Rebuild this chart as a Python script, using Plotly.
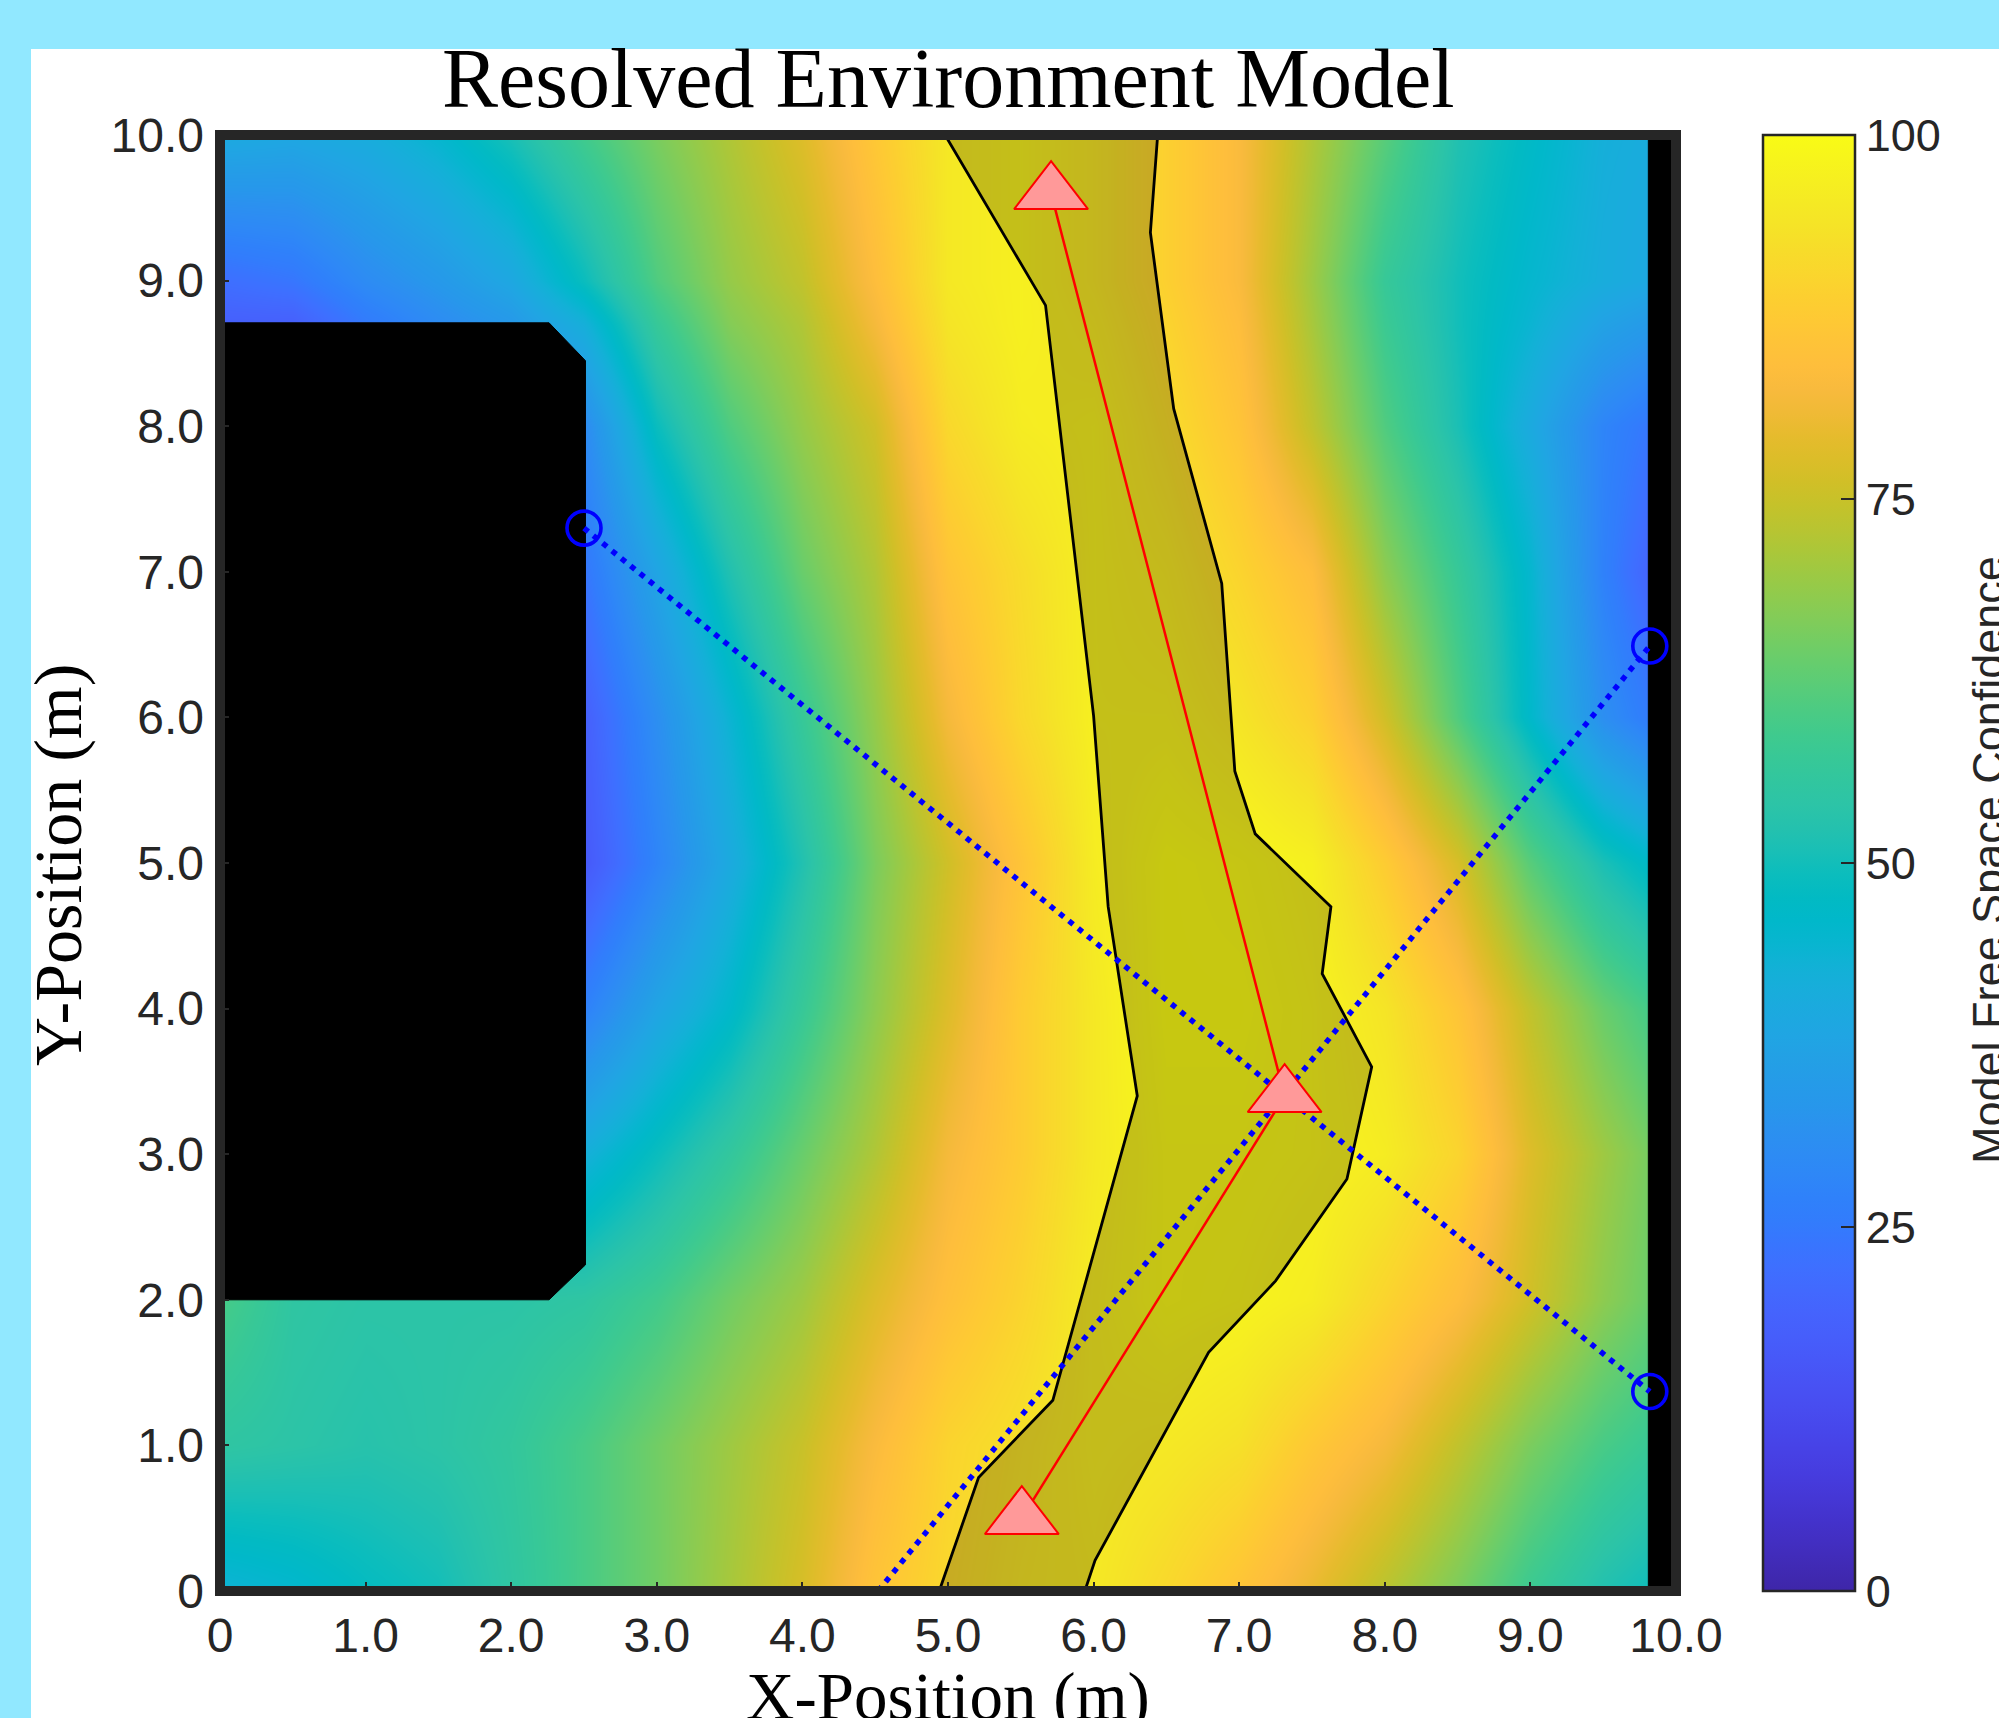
import plotly.graph_objects as go

# ---------------- data ----------------
x_grid = [0.0, 0.5, 1.0, 1.5, 2.0, 2.5, 3.0, 3.5, 4.0, 4.5, 5.0,
          5.5, 6.0, 6.5, 7.0, 7.5, 8.0, 8.5, 9.0, 9.5, 10.0]
y_grid = [0.0, 1.0, 2.0, 3.0, 4.0, 5.0, 6.0, 7.0, 8.0, 8.7, 9.0, 10.0]

conf_y0 = [43, 45, 48, 50, 55, 60, 65, 71, 77, 86, 91, 94, 95, 91, 86, 80, 73, 66, 58, 52, 48]
conf_y1 = [55, 54, 53, 54, 56, 60, 65, 70, 75, 83, 90, 93, 96, 95, 93, 87, 82, 74, 66, 60, 56]
conf_y2 = [60, 55, 54, 54, 54, 55, 59, 65, 70, 78, 85, 90, 96, 99, 98, 96, 90, 84, 76, 68, 62]
conf_y3 = [58, 54, 52, 50, 47, 42, 49, 56, 64, 72, 82, 88, 95, 99, 99, 98, 96, 90, 78, 70, 63]
conf_y4 = [20, 18, 18, 20, 22, 27, 38, 46, 57, 68, 78, 88, 95, 100, 100, 98, 94, 86, 74, 64, 57]
conf_y5 = [10, 10, 10, 12, 14, 16, 28, 40, 52, 66, 76, 86, 96, 100, 99, 97, 88, 77, 62, 51, 44]
conf_y6 = [10, 10, 10, 12, 15, 18, 31, 44, 57, 69, 82, 91, 97, 97, 94, 89, 76, 61, 46, 31, 22]
conf_y7 = [10, 10, 12, 15, 20, 24, 38, 52, 64, 72, 86, 92, 97, 95, 90, 84, 68, 57, 45, 27, 15]
conf_y8 = [8, 8, 13, 18, 22, 30, 49, 61, 69, 76, 91, 96, 97, 92, 86, 74, 61, 51, 40, 28, 22]
conf_y8_7 = [18, 18, 25, 30, 34, 42, 57, 67, 72, 82, 94, 97, 95, 90, 84, 71, 58, 50, 44, 37, 33]
conf_y9 = [22, 24, 30, 34, 39, 49, 61, 69, 74, 84, 95, 97, 94, 89, 83, 70, 57, 50, 45, 41, 38]
conf_y10 = [40, 39, 41, 45, 51, 59, 66, 72, 78, 87, 95, 97, 94, 89, 83, 72, 62, 52, 47, 42, 40]

# corridor (resolved free-space band)
corr_x = [4.94, 5.21, 5.72, 6.30, 6.10, 6.00, 5.67, 4.98, 6.44, 6.39, 6.55, 6.88,
          6.97, 7.11, 7.63, 7.57, 7.91, 7.74, 7.25, 6.79, 6.01, 5.94]
corr_y = [0.00, 0.78, 1.31, 3.40, 4.70, 6.01, 8.83, 10.0, 10.0, 9.33, 8.12, 6.92,
          5.63, 5.20, 4.70, 4.24, 3.60, 2.83, 2.13, 1.64, 0.21, 0.00]

# obstacles
obst_x = [0.0, 2.26, 2.51, 2.51, 2.26, 0.0]
obst_y = [2.0, 2.0, 2.24, 8.45, 8.71, 8.71]
wall_x = [9.81, 10.0, 10.0, 9.81]
wall_y = [0.0, 0.0, 10.0, 10.0]

# planned path waypoints
path_x = [5.708, 7.312, 5.507]
path_y = [9.601, 3.399, 0.501]

# sensor beams
beam_a_x = [2.50, 9.82]
beam_a_y = [7.30, 1.37]
beam_b_x = [4.52, 9.82]
beam_b_y = [0.00, 6.49]
sensor_x = [2.50, 9.82, 9.82]
sensor_y = [7.30, 1.37, 6.49]

x_ticks = [0, 1, 2, 3, 4, 5, 6, 7, 8, 9, 10]
x_tick_labels = ["0", "1.0", "2.0", "3.0", "4.0", "5.0", "6.0", "7.0", "8.0", "9.0", "10.0"]
y_ticks = [0, 1, 2, 3, 4, 5, 6, 7, 8, 9, 10]
y_tick_labels = ["0", "1.0", "2.0", "3.0", "4.0", "5.0", "6.0", "7.0", "8.0", "9.0", "10.0"]
cb_ticks = [0, 25, 50, 75, 100]
cb_tick_labels = ["0", "25", "50", "75", "100"]

parula_rgb = [
    (0.2422, 0.1504, 0.6603), (0.2504, 0.1650, 0.7076), (0.2578, 0.1818, 0.7511),
    (0.2647, 0.1978, 0.7952), (0.2706, 0.2147, 0.8364), (0.2751, 0.2342, 0.8710),
    (0.2783, 0.2559, 0.8991), (0.2803, 0.2782, 0.9221), (0.2813, 0.3006, 0.9414),
    (0.2810, 0.3228, 0.9579), (0.2795, 0.3447, 0.9717), (0.2760, 0.3667, 0.9829),
    (0.2699, 0.3892, 0.9906), (0.2602, 0.4123, 0.9952), (0.2440, 0.4358, 0.9988),
    (0.2206, 0.4603, 0.9973), (0.1963, 0.4847, 0.9892), (0.1834, 0.5074, 0.9798),
    (0.1786, 0.5289, 0.9682), (0.1764, 0.5499, 0.9520), (0.1687, 0.5703, 0.9359),
    (0.1540, 0.5902, 0.9218), (0.1460, 0.6091, 0.9079), (0.1380, 0.6276, 0.8973),
    (0.1248, 0.6459, 0.8883), (0.1113, 0.6635, 0.8763), (0.0952, 0.6798, 0.8598),
    (0.0689, 0.6948, 0.8394), (0.0297, 0.7082, 0.8163), (0.0036, 0.7203, 0.7917),
    (0.0067, 0.7312, 0.7660), (0.0433, 0.7411, 0.7394), (0.0964, 0.7500, 0.7120),
    (0.1408, 0.7584, 0.6842), (0.1717, 0.7670, 0.6554), (0.1938, 0.7758, 0.6251),
    (0.2161, 0.7843, 0.5923), (0.2470, 0.7918, 0.5567), (0.2906, 0.7973, 0.5188),
    (0.3406, 0.8008, 0.4789), (0.3909, 0.8029, 0.4354), (0.4456, 0.8024, 0.3909),
    (0.5044, 0.7993, 0.3480), (0.5616, 0.7942, 0.3045), (0.6174, 0.7876, 0.2612),
    (0.6720, 0.7793, 0.2227), (0.7242, 0.7698, 0.1910), (0.7738, 0.7598, 0.1646),
    (0.8203, 0.7498, 0.1535), (0.8634, 0.7406, 0.1596), (0.9035, 0.7330, 0.1774),
    (0.9393, 0.7288, 0.2100), (0.9728, 0.7298, 0.2394), (0.9956, 0.7434, 0.2371),
    (0.9970, 0.7659, 0.2199), (0.9952, 0.7893, 0.2028), (0.9892, 0.8136, 0.1885),
    (0.9786, 0.8386, 0.1766), (0.9676, 0.8639, 0.1643), (0.9610, 0.8890, 0.1537),
    (0.9597, 0.9135, 0.1423), (0.9628, 0.9373, 0.1265), (0.9691, 0.9606, 0.1064),
    (0.9769, 0.9839, 0.0805),
]

# ---------------- figure ----------------
parula = [[i / (len(parula_rgb) - 1),
           "rgb(%d,%d,%d)" % (round(r * 255), round(g * 255), round(b * 255))]
          for i, (r, g, b) in enumerate(parula_rgb)]

z = [conf_y0, conf_y1, conf_y2, conf_y3, conf_y4, conf_y5, conf_y6,
     conf_y7, conf_y8, conf_y8_7, conf_y9, conf_y10]

W, H = 1999, 1718
ML, MR, MT, MB = 220, 323, 135, 127
PW = W - ML - MR
PH = H - MT - MB


def px_x(p):
    return (p - ML) / PW


def px_y(p):
    return (H - MB - p) / PH


AX = "#262626"
TICKFONT = dict(family="Liberation Sans, Arial, sans-serif", size=48, color=AX)

fig = go.Figure()

fig.add_trace(go.Heatmap(
    x=x_grid, y=y_grid, z=z, zmin=0, zmax=100, zsmooth="best",
    colorscale=parula, hoverinfo="skip",
    colorbar=dict(
        x=px_x(1763), xanchor="left", xpad=0, y=0.5, yanchor="middle",
        len=1.0, lenmode="fraction", ypad=0,
        thickness=92, thicknessmode="pixels",
        outlinewidth=2.5, outlinecolor=AX,
        ticks="inside", ticklen=15, tickwidth=2, tickcolor=AX,
        tickvals=cb_ticks, ticktext=cb_tick_labels,
        tickfont=dict(family="Liberation Sans, Arial, sans-serif", size=45, color=AX),
    ),
))

fig.add_trace(go.Scatter(
    x=corr_x + corr_x[:1], y=corr_y + corr_y[:1], mode="lines",
    fill="toself", fillcolor="rgba(0,0,0,0.2)",
    line=dict(color="black", width=2.8), hoverinfo="skip", showlegend=False))

fig.add_trace(go.Scatter(
    x=obst_x + obst_x[:1], y=obst_y + obst_y[:1], mode="lines",
    fill="toself", fillcolor="black", line=dict(color="black", width=1),
    hoverinfo="skip", showlegend=False))

fig.add_trace(go.Scatter(
    x=wall_x + wall_x[:1], y=wall_y + wall_y[:1], mode="lines",
    fill="toself", fillcolor="black", line=dict(color="black", width=1),
    hoverinfo="skip", showlegend=False))

fig.add_trace(go.Scatter(
    x=path_x, y=path_y, mode="lines", line=dict(color="red", width=2.5),
    hoverinfo="skip", showlegend=False))

for bx, by in ((beam_a_x, beam_a_y), (beam_b_x, beam_b_y)):
    fig.add_trace(go.Scatter(
        x=bx, y=by, mode="lines",
        line=dict(color="blue", width=5.5, dash="5.5px,6.5px"),
        hoverinfo="skip", showlegend=False))

fig.add_trace(go.Scatter(
    x=sensor_x, y=sensor_y, mode="markers",
    marker=dict(symbol="circle-open", size=34, color="blue", line=dict(width=3.6, color="blue")),
    hoverinfo="skip", showlegend=False))

fig.add_trace(go.Scatter(
    x=path_x, y=path_y, mode="markers",
    marker=dict(symbol="triangle-up", size=64, color="#FF9999", line=dict(color="red", width=2)),
    hoverinfo="skip", showlegend=False))

axis_common = dict(
    range=[0, 10], showgrid=False, zeroline=False, showline=False,
    ticks="inside", ticklen=9, tickwidth=2, tickcolor=AX,
    tickfont=TICKFONT, fixedrange=True,
)
fig.update_xaxes(tickvals=x_ticks, ticktext=x_tick_labels, ticklabelstandoff=12, **axis_common)
fig.update_yaxes(tickvals=y_ticks, ticktext=y_tick_labels, ticklabelstandoff=15, **axis_common)

shapes = [
    # white panel over light-blue page
    dict(type="rect", xref="paper", yref="paper",
         x0=px_x(31), x1=px_x(W + 20), y0=px_y(H + 20), y1=px_y(49),
         fillcolor="white", line=dict(width=0), layer="below"),
    # axes box
    dict(type="rect", xref="paper", yref="paper", x0=0, x1=1, y0=0, y1=1,
         line=dict(color=AX, width=10), fillcolor="rgba(0,0,0,0)", layer="above"),
]

SERIF = "Liberation Serif, Times New Roman, serif"
annotations = [
    dict(text="Resolved Environment Model", xref="paper", yref="paper",
         x=0.5, y=px_y(79), xanchor="center", yanchor="middle", showarrow=False,
         font=dict(family=SERIF, size=84, color="black")),
    dict(text="X-Position (m)", xref="paper", yref="paper",
         x=0.5, y=px_y(1696), xanchor="center", yanchor="middle", showarrow=False,
         font=dict(family=SERIF, size=67, color="black")),
    dict(text="Y-Position (m)", xref="paper", yref="paper", textangle=-90,
         x=px_x(58), y=px_y(865), xanchor="center", yanchor="middle", showarrow=False,
         font=dict(family=SERIF, size=68, color="black")),
    dict(text="Model Free Space Confidence", xref="paper", yref="paper", textangle=-90,
         x=px_x(1988), y=px_y(860), xanchor="center", yanchor="middle", showarrow=False,
         font=dict(family="Liberation Sans, Arial, sans-serif", size=45, color=AX)),
]

fig.update_layout(
    width=W, height=H,
    margin=dict(l=ML, r=MR, t=MT, b=MB, pad=0),
    paper_bgcolor="#91E8FF", plot_bgcolor="white",
    showlegend=False, shapes=shapes, annotations=annotations,
)

fig.write_html(
    "out.html",
    config={"displayModeBar": False, "staticPlot": True},
    post_script="document.body.style.margin='0px';document.body.style.overflow='hidden';",
)
